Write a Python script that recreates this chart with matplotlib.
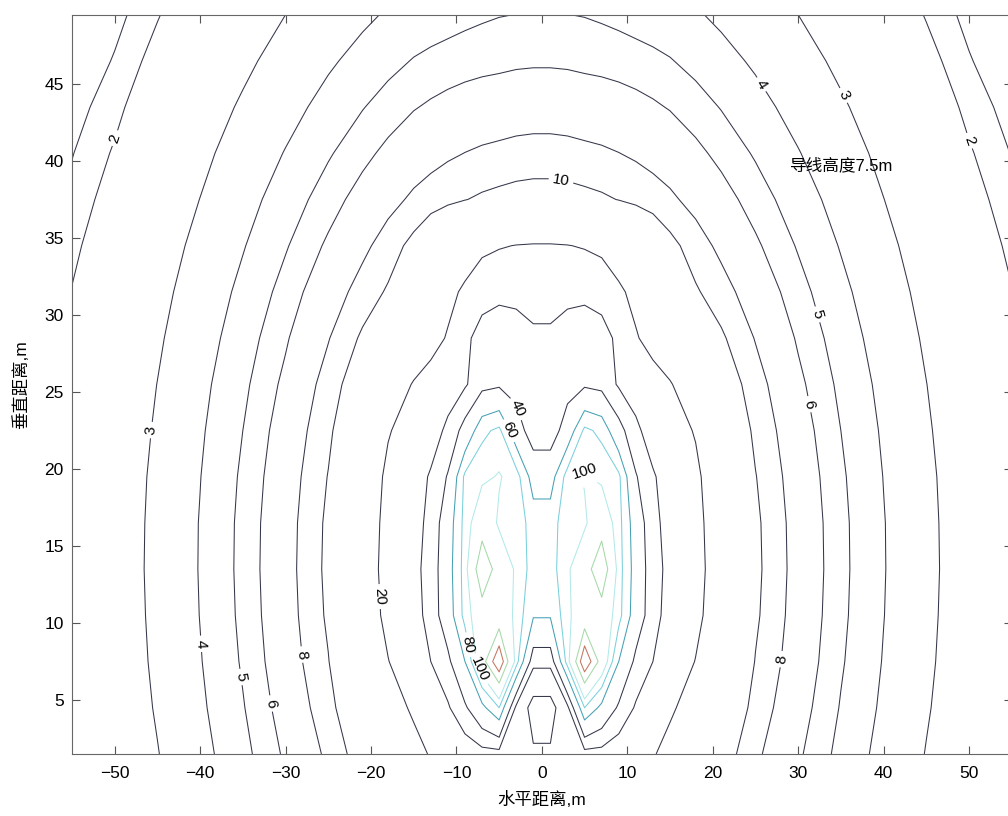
import numpy as np
import matplotlib
matplotlib.use("Agg")
import matplotlib.pyplot as plt

plt.rcParams['font.family'] = ['Liberation Sans', 'Noto Sans CJK SC', 'DejaVu Sans']

# grid, right half only (x >= 0); the left half is its mirror
x_half = [1, 3, 5, 7, 9, 11, 13, 15, 18, 21, 25, 30, 35, 40, 45, 50, 55]
y_rows = [1.5, 4.5, 7.5, 10.5, 13.5, 16.5, 19.5, 22.5, 25.5, 28.5, 31.5,
          34.5, 37.5, 40.5, 43.5, 46.5, 49.5]
field = [
    [21, 24, 27, 27, 25, 22, 20.5, 18, 14.6, 11.5, 8.4, 6.2, 4.70, 3.69, 2.97, 2.44, 2.05],
    [17, 28, 80, 55, 38, 29, 24, 21, 17.2, 13.4, 9.2, 6.6, 4.93, 3.84, 3.07, 2.50, 2.09],
    [33, 90, 260, 130, 60, 37, 30, 25, 19.8, 15.0, 9.9, 6.95, 5.12, 3.95, 3.14, 2.55, 2.13],
    [62, 95, 120, 125, 88, 50, 33, 27, 21.8, 16.2, 10.4, 7.15, 5.24, 4.02, 3.18, 2.58, 2.15],
    [72, 96, 125, 199, 90, 52, 33, 28, 22.4, 16.6, 10.6, 7.25, 5.29, 4.05, 3.20, 2.60, 2.16],
    [70, 95, 96, 125, 88, 50, 32, 27.5, 22.0, 16.4, 10.5, 7.2, 5.27, 4.04, 3.19, 2.59, 2.16],
    [52, 90, 102, 95, 85, 41, 31, 26, 21.5, 15.4, 10.1, 7.0, 5.17, 3.98, 3.16, 2.56, 2.15],
    [33, 48, 85, 75, 45, 32, 26, 23.5, 19.5, 13.9, 9.5, 6.7, 5.00, 3.88, 3.09, 2.52, 2.13],
    [33.5, 35, 38, 36, 29, 26, 22.5, 20.5, 16.0, 12.1, 8.8, 6.3, 4.78, 3.75, 3.01, 2.46, 2.10],
    [32, 37, 39, 36, 27, 20.5, 18, 15.5, 12.4, 10.4, 7.9, 5.85, 4.52, 3.58, 2.90, 2.39, 2.06],
    [26, 26.5, 27, 25, 21, 18.5, 16, 13.5, 10.3, 8.8, 7.0, 5.38, 4.24, 3.40, 2.78, 2.31, 2.01],
    [20.5, 20.2, 19.5, 18.5, 17, 15.2, 13, 10.8, 8.9, 7.55, 6.21, 4.91, 3.94, 3.21, 2.65, 2.22, 1.94],
    [11.14, 10.98, 10.68, 10.36, 9.93, 9.44, 8.90, 8.35, 7.40, 6.53, 5.51, 4.47, 3.65, 3.01, 2.52, 2.13, 1.86],
    [8.76, 8.66, 8.47, 8.29, 8.03, 7.72, 7.37, 7.00, 6.32, 5.67, 4.89, 4.05, 3.37, 2.82, 2.38, 2.03, 1.79],
    [7.07, 7.01, 6.88, 6.77, 6.61, 6.41, 6.18, 5.92, 5.43, 4.95, 4.34, 3.66, 3.10, 2.63, 2.24, 1.93, 1.71],
    [5.83, 5.79, 5.70, 5.63, 5.53, 5.40, 5.24, 5.06, 4.70, 4.33, 3.86, 3.32, 2.84, 2.44, 2.11, 1.82, 1.62],
    [5.03, 5.01, 4.96, 4.86, 4.74, 4.60, 4.49, 4.37, 4.10, 3.81, 3.44, 3.00, 2.61, 2.27, 1.98, 1.73, 1.54],
]

# labelled levels and the ones drawn without a label
label_levels = [2, 3, 4, 5, 6, 8, 10, 20, 40, 60, 80, 100]
label_colors = ['#34374a'] * 9 + ['#45a0b3', '#7ad0dc', '#b3e9e9']
plain_levels = [1.8, 30, 150, 200]
plain_colors = ['#34374a', '#34374a', '#a5d9a8', '#c4765f']
label_spots = [(-49.5, 41.4), (49.5, 41.2), (-45.3, 22.5), (35.1, 44.2),
               (25.2, 44.8), (-41.4, 8.6), (-36.5, 6.4), (32.0, 30.0),
               (-32.7, 4.7), (31.2, 24.2), (-29.2, 7.9), (29.1, 7.6),
               (2.1, 38.2), (-19.7, 11.7), (-3.7, 23.8), (-3.1, 22.7),
               (-8.6, 8.6), (-7.2, 7.0), (4.9, 19.9)]

xh = np.array(x_half, dtype=float)
Z = np.array(field, dtype=float)
x = np.concatenate([-xh[::-1], xh])
Zlog = np.log(np.concatenate([Z[:, ::-1], Z], axis=1))

fig = plt.figure(figsize=(10.08, 8.16), dpi=100)
ax = fig.add_axes([0.0714, 0.076, 0.9323, 0.906])

ax.contour(x, y_rows, Zlog, levels=np.log(plain_levels),
           colors=plain_colors, linewidths=0.75)
cs = ax.contour(x, y_rows, Zlog, levels=np.log(label_levels),
                colors=label_colors, linewidths=0.75)
ax.clabel(cs, manual=label_spots, inline=True, inline_spacing=4,
          fontsize=11, colors='black', fmt=lambda v: f"{np.exp(v):.0f}")

ax.text(29.0, 39.7, "导线高度7.5m", fontsize=12, va='center', ha='left')

ax.set_xlim(-55, 55)
ax.set_ylim(1.5, 49.5)
ax.set_xticks(range(-50, 51, 10))
ax.set_yticks(range(5, 46, 5))
ax.tick_params(direction='in', top=True, right=True, length=6, labelsize=12.5,
               color='#555555')
ax.tick_params(axis='x', pad=9)
ax.tick_params(axis='y', pad=6)
for s in ax.spines.values():
    s.set_color('#666666')
ax.set_xlabel("水平距离,m", fontsize=12.5, labelpad=7)
ax.set_ylabel("垂直距离,m", fontsize=12.5, labelpad=11)

fig.savefig("out.png", dpi=100)
